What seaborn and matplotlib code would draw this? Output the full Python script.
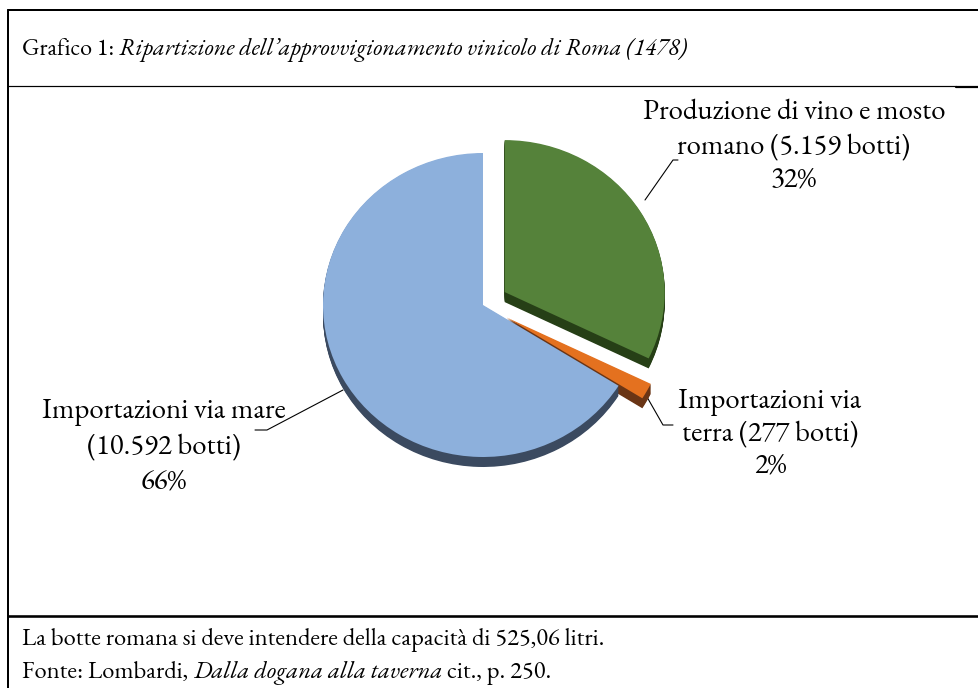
import numpy as np
import matplotlib
matplotlib.use("Agg")
import matplotlib.pyplot as plt
import matplotlib.font_manager as fm
import seaborn as sns

# dati (botti di vino, Roma 1478)
categorie = ["Produzione di vino e mosto\nromano (5.159 botti)",
             "Importazioni via\nterra (277 botti)",
             "Importazioni via mare\n(10.592 botti)"]
botti = [5159, 277, 10592]
percentuali = ["32%", "2%", "66%"]

colori = ["#55823A", "#E4711F", "#8DB0DC"]
colori_scuri = ["#263F16", "#6A3515", "#3B4A60"]

sns.set_theme(style="white")
disponibili = {f.name for f in fm.fontManager.ttflist}
serif = next(c for c in ["EB Garamond", "Cormorant Garamond", "Liberation Serif", "DejaVu Serif"]
             if c in disponibili)
plt.rcParams["font.family"] = [serif, "DejaVu Serif"]
plt.rcParams["text.color"] = "black"

W, H = 979, 688
fig = plt.figure(figsize=(W / 100, H / 100), dpi=100)
renderer = fig.canvas.get_renderer()


def misura(testo, size, style="normal"):
    t = fig.text(0, 0, testo, fontsize=size, fontstyle=style, family=serif)
    w = t.get_window_extent(renderer).width
    t.remove()
    return w


def adatta(pezzi, larghezza):
    # pezzi: lista (testo, stile); restituisce il corpo che dà la larghezza voluta
    w10 = sum(misura(t, 10, s) for t, s in pezzi)
    return 10 * larghezza / w10


# asse di sfondo in pixel per cornice e testi
bg = fig.add_axes([0, 0, 1, 1])
bg.set_xlim(0, W)
bg.set_ylim(H, 0)
bg.axis("off")

px = 0.72
bg.plot([8, W], [10, 10], color="black", lw=2 * px)
bg.plot([8, 8], [10, H], color="black", lw=2 * px)
bg.plot([8, 956], [86, 86], color="black", lw=1.2 * px)
bg.plot([956, W], [86.5, 86.5], color="black", lw=2.2 * px)
bg.plot([8, W], [616, 616], color="black", lw=2.6 * px)


def riga(x, y, pezzi, size):
    prec = None
    for testo, stile in pezzi:
        if prec is None:
            prec = bg.text(x, y, testo, fontsize=size, fontstyle=stile,
                           va="center", ha="left", family=serif)
        else:
            prec = bg.annotate(testo, xy=(1, 0), xycoords=prec, va="bottom",
                               ha="left", fontsize=size, fontstyle=stile,
                               family=serif)


titolo = [("Grafico 1: ", "normal"),
          ("Ripartizione dell\u2019approvvigionamento vinicolo di Roma (1478)", "italic")]
nota = [("La botte romana si deve intendere della capacità di 525,06 litri.", "normal")]
fonte = [("Fonte: Lombardi, ", "normal"), ("Dalla dogana alla taverna", "italic"),
         (" cit., p. 250.", "normal")]

riga(22, 50, titolo, adatta(titolo, 666))
corpo_note = adatta(nota, 580)
riga(22, 640, nota, corpo_note)
riga(22, 673, fonte, corpo_note)

# torta con effetto 3D
cx, cy, rx, ry = 483, 305, 160, 152
ax = fig.add_axes([(cx - 1.5 * rx) / W, 1 - (cy + 1.4 * ry) / H,
                   3 * rx / W, 2.8 * ry / H])

esplodi = [0.16, 0.17, 0]
profondita = 10 / ry
for off in np.linspace(profondita, 0.005, 12):
    ax.pie(botti, colors=colori_scuri, startangle=90, counterclock=False,
           explode=esplodi, center=(0, -off), frame=True,
           wedgeprops=dict(linewidth=0))
ax.pie(botti, colors=colori, startangle=90, counterclock=False,
       explode=esplodi, center=(0, 0), frame=True,
       wedgeprops=dict(linewidth=0))
ax.set_aspect("auto")
ax.set_xlim(-1.5, 1.5)
ax.set_ylim(-1.4, 1.4)
ax.axis("off")

# etichette e linee guida
corpo_etich = adatta([("Produzione di vino e mosto", "normal")], 302)
etichette_pos = [(794, [113, 147, 180]), (770, [402, 434, 466]), (164, [412, 447, 482])]
guide = [([645, 673, 678], [200, 160, 160]),
         ([647, 663, 673], [397, 425, 425]),
         ([343, 267, 255], [390, 430, 430])]
for testo, perc, (x, ys), (gx, gy) in zip(categorie, percentuali, etichette_pos, guide):
    for linea, y in zip(testo.split("\n") + [perc], ys):
        bg.text(x, y, linea, fontsize=corpo_etich, ha="center", va="center",
                family=serif)
    bg.plot(gx, gy, color="black", lw=1.1 * px)

fig.savefig("out.png", dpi=100)
